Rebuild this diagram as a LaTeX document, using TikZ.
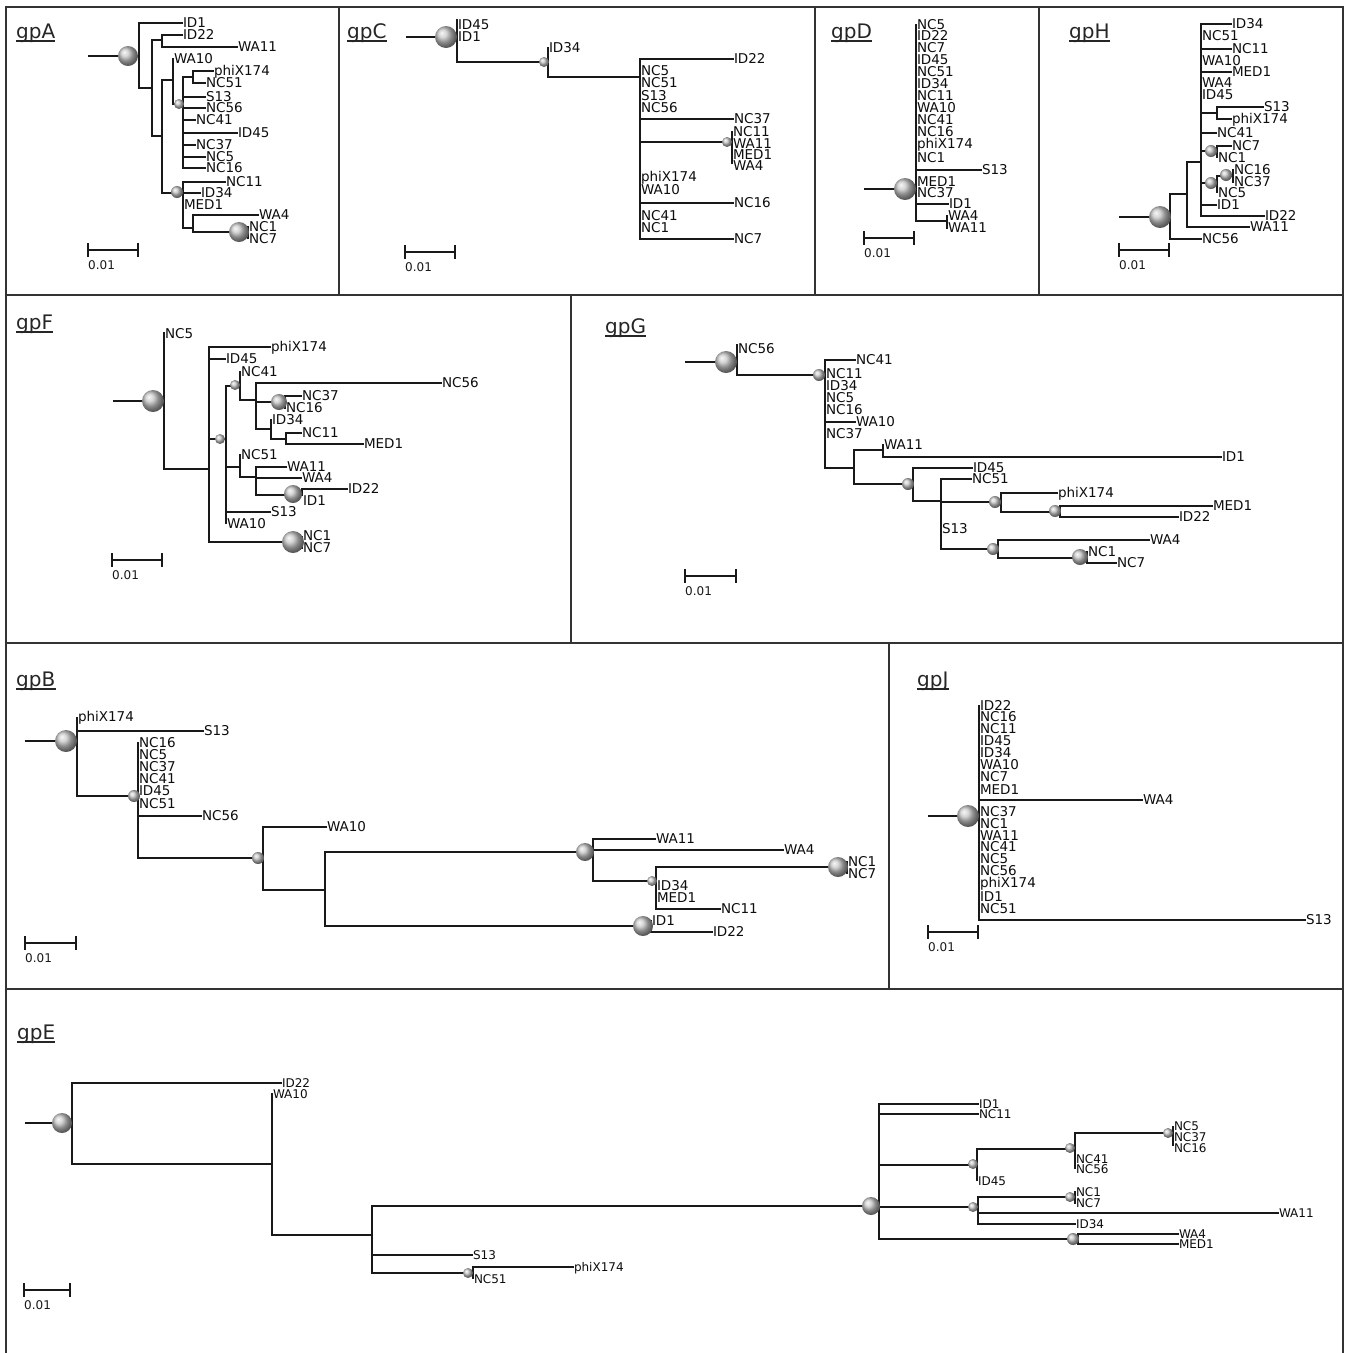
\documentclass[tikz,border=0pt]{standalone}
\usepackage{fontspec}
\setmainfont{DejaVu Sans}
\newcounter{lbl}
\def\lo{4.9}
\newcommand\hln[3]{\draw[br] (#1,#3) -- (#2,#3);}
\newcommand\vln[3]{\draw[br] (#1,#2) -- (#1,#3);}
\newcommand\zlab[3]{\stepcounter{lbl}\node[lab] (lab\arabic{lbl}) at (#1,#2+\lo) {#3};}
\newcommand\lfb[4]{\draw[br] (#1,#3) -- (#2,#3); \zlab{#2}{#3}{#4}}
\newcommand\bub[3]{\shade[ball color=gray!45] (#1,#2) circle (#3);}
\newcommand\sclbar[3]{\draw[br] (#1,#3) -- (#2,#3); \draw[br] (#1,#3-6) -- (#1,#3+6); \draw[br] (#2,#3-6) -- (#2,#3+6);
  \stepcounter{lbl}\node[scl] (lab\arabic{lbl}) at (#1,#3+19) {0.01};}
\newcommand\ttl[3]{\node[ttlst] (#1) at (#2) {#3}; \draw[line width=1.3pt,black!85] ([yshift=-3pt]#1.base west) -- ([yshift=-3pt]#1.base east);}
\begin{document}
\begin{tikzpicture}[x=1pt,y=-1pt,
  br/.style={line width=2.1pt, draw=black!90, line cap=rect},
  lab/.style={anchor=base west, inner sep=0pt, xshift=0.8pt, text=black!95, font=\fontsize{13.5}{13.5}\selectfont},
  scl/.style={anchor=base west, inner sep=0pt, text=black!90, font=\fontsize{12}{12}\selectfont},
  ttlst/.style={anchor=base west, inner sep=0pt, text=black!85, font=\fontsize{20}{20}\selectfont},
  frame/.style={line width=2pt, draw=black!80}]
\useasboundingbox (0,0) rectangle (1348,1353);
\fill[white] (0,0) rectangle (1348,1353);
% frame
\draw[frame] (6,1353) -- (6,7) -- (1343,7) -- (1343,1353);
\draw[frame] (6,295) -- (1343,295);
\draw[frame] (6,643) -- (1343,643);
\draw[frame] (6,989) -- (1343,989);
\draw[frame] (339,7) -- (339,295);
\draw[frame] (815,7) -- (815,295);
\draw[frame] (1039,7) -- (1039,295);
\draw[frame] (571,295) -- (571,643);
\draw[frame] (889,643) -- (889,989);

% ===== gpA =====
\ttl{tA}{16,38}{gpA}
\hln{89}{139}{56}
\vln{139}{23}{88}
\lfb{139}{182}{23}{ID1}
\hln{139}{152}{88}
\vln{152}{40}{136}
\hln{152}{162}{40}
\vln{162}{35}{47}
\lfb{162}{182}{35}{ID22}
\lfb{162}{237}{47}{WA11}
\hln{152}{162}{136}
\vln{162}{80}{193}
\hln{162}{173}{80}
\vln{173}{59}{104}
\zlab{173}{59}{WA10}
\hln{173}{183}{104}
\vln{183}{77}{168}
\hln{183}{193}{77}
\vln{193}{71}{83}
\lfb{193}{213}{71}{phiX174}
\lfb{193}{205}{83}{NC51}
\lfb{183}{205}{97}{S13}
\lfb{183}{205}{108}{NC56}
\lfb{183}{195}{120}{NC41}
\lfb{183}{237}{133}{ID45}
\lfb{183}{195}{145}{NC37}
\lfb{183}{205}{157}{NC5}
\lfb{183}{205}{168}{NC16}
\hln{162}{183}{193}
\vln{183}{182}{228}
\lfb{183}{225}{182}{NC11}
\lfb{183}{200}{193}{ID34}
\zlab{183}{205}{MED1}
\hln{183}{193}{228}
\vln{193}{215}{232}
\lfb{193}{258}{215}{WA4}
\hln{193}{248}{232}
\vln{248}{227}{238}
\zlab{248}{227}{NC1}
\zlab{248}{239}{NC7}
\bub{128}{56}{10}\bub{179}{104}{5}\bub{177}{192}{6}\bub{239}{232}{10}
\sclbar{88}{138}{250}

% ===== gpC =====
\ttl{tC}{347,38}{gpC}
\hln{407}{457}{37}
\vln{457}{20}{62}
\zlab{457}{25}{ID45}
\zlab{457}{37}{ID1}
\hln{457}{548}{62}
\vln{548}{48}{77}
\zlab{548}{48}{ID34}
\hln{548}{640}{77}
\vln{640}{59}{239}
\lfb{640}{733}{59}{ID22}
\zlab{640}{71}{NC5}\zlab{640}{83}{NC51}\zlab{640}{96}{S13}\zlab{640}{108}{NC56}
\lfb{640}{733}{119}{NC37}
\hln{640}{732}{142}
\vln{732}{132}{163}
\zlab{732}{132}{NC11}\zlab{732}{144}{WA11}\zlab{732}{155}{MED1}\zlab{732}{166}{WA4}
\zlab{640}{177}{phiX174}\zlab{640}{190}{WA10}
\lfb{640}{733}{203}{NC16}
\zlab{640}{216}{NC41}\zlab{640}{228}{NC1}
\lfb{640}{733}{239}{NC7}
\bub{446}{37}{11}\bub{544}{62}{5}\bub{727}{142}{5}
\sclbar{405}{455}{252}

% ===== gpD =====
\ttl{tD}{831,38}{gpD}
\hln{865}{916}{189}
\vln{916}{25}{221}
\zlab{916}{25}{NC5}\zlab{916}{36}{ID22}\zlab{916}{48}{NC7}\zlab{916}{60}{ID45}
\zlab{916}{72}{NC51}\zlab{916}{84}{ID34}\zlab{916}{96}{NC11}\zlab{916}{108}{WA10}
\zlab{916}{120}{NC41}\zlab{916}{132}{NC16}\zlab{916}{144}{phiX174}\zlab{916}{158}{NC1}
\lfb{916}{981}{170}{S13}
\zlab{916}{182}{MED1}\zlab{916}{193}{NC37}
\lfb{916}{948}{204}{ID1}
\hln{916}{947}{221}
\vln{947}{216}{228}
\zlab{947}{216}{WA4}\zlab{947}{228}{WA11}
\bub{905}{189}{11}
\sclbar{864}{914}{238}

% ===== gpH =====
\ttl{tH}{1069,38}{gpH}
\hln{1120}{1170}{217}
\vln{1170}{194}{239}
\lfb{1170}{1201}{239}{NC56}
\hln{1170}{1187}{194}
\vln{1187}{162}{227}
\lfb{1187}{1249}{227}{WA11}
\hln{1187}{1201}{162}
\vln{1201}{24}{216}
\lfb{1201}{1231}{24}{ID34}
\zlab{1201}{36}{NC51}
\lfb{1201}{1231}{49}{NC11}
\zlab{1201}{61}{WA10}
\lfb{1201}{1231}{72}{MED1}
\zlab{1201}{83}{WA4}
\zlab{1201}{95}{ID45}
\hln{1201}{1217}{113}
\vln{1217}{107}{119}
\lfb{1217}{1263}{107}{S13}
\lfb{1217}{1231}{119}{phiX174}
\lfb{1201}{1216}{133}{NC41}
\hln{1201}{1217}{151}
\vln{1217}{146}{157}
\lfb{1217}{1231}{146}{NC7}
\zlab{1217}{158}{NC1}
\hln{1201}{1217}{183}
\vln{1217}{176}{192}
\hln{1217}{1233}{176}
\vln{1233}{170}{182}
\zlab{1233}{170}{NC16}\zlab{1233}{182}{NC37}
\zlab{1217}{193}{NC5}
\lfb{1201}{1216}{205}{ID1}
\lfb{1201}{1264}{216}{ID22}
\bub{1160}{217}{11}\bub{1211}{151}{6}\bub{1211}{183}{6}\bub{1226}{175}{6}
\sclbar{1119}{1169}{250}

% ===== gpF =====
\ttl{tF}{16,329}{gpF}
\hln{114}{164}{401}
\vln{164}{333}{469}
\zlab{164}{334}{NC5}
\hln{164}{209}{469}
\vln{209}{347}{542}
\lfb{209}{270}{347}{phiX174}
\lfb{209}{225}{359}{ID45}
\hln{209}{226}{439}
\vln{226}{386}{523}
\hln{226}{240}{386}
\vln{240}{372}{400}
\zlab{240}{372}{NC41}
\hln{240}{256}{400}
\vln{256}{383}{429}
\lfb{256}{441}{383}{NC56}
\hln{256}{285}{402}
\vln{285}{396}{408}
\lfb{285}{301}{396}{NC37}
\zlab{285}{408}{NC16}
\hln{256}{271}{429}
\vln{271}{420}{439}
\zlab{271}{420}{ID34}
\hln{271}{286}{439}
\vln{286}{433}{444}
\lfb{286}{301}{433}{NC11}
\lfb{286}{363}{444}{MED1}
\hln{226}{240}{467}
\vln{240}{455}{477}
\zlab{240}{455}{NC51}
\hln{240}{256}{477}
\vln{256}{467}{495}
\lfb{256}{286}{467}{WA11}
\lfb{256}{301}{478}{WA4}
\hln{256}{302}{495}
\vln{302}{489}{495}
\lfb{302}{347}{489}{ID22}
\zlab{302}{501}{ID1}
\lfb{226}{270}{512}{S13}
\zlab{226}{524}{WA10}
\hln{209}{302}{542}
\vln{302}{537}{548}
\zlab{302}{536}{NC1}\zlab{302}{548}{NC7}
\bub{153}{401}{11}\bub{220}{439}{5}\bub{235}{385}{5}\bub{279}{402}{8}\bub{293}{494}{9}\bub{293}{542}{11}
\sclbar{112}{162}{560}

% ===== gpG =====
\ttl{tG}{605,333}{gpG}
\hln{686}{737}{362}
\vln{737}{345}{375}
\zlab{737}{349}{NC56}
\hln{737}{825}{375}
\vln{825}{360}{468}
\lfb{825}{855}{360}{NC41}
\zlab{825}{374}{NC11}\zlab{825}{386}{ID34}\zlab{825}{398}{NC5}\zlab{825}{410}{NC16}
\lfb{825}{855}{422}{WA10}
\zlab{825}{434}{NC37}
\hln{825}{854}{468}
\vln{854}{450}{484}
\hln{854}{883}{450}
\vln{883}{445}{457}
\zlab{883}{445}{WA11}
\lfb{883}{1221}{457}{ID1}
\hln{854}{913}{484}
\vln{913}{468}{501}
\lfb{913}{972}{468}{ID45}
\hln{913}{941}{501}
\vln{941}{479}{549}
\lfb{941}{971}{479}{NC51}
\hln{941}{1001}{502}
\vln{1001}{493}{512}
\lfb{1001}{1057}{493}{phiX174}
\hln{1001}{1060}{512}
\vln{1060}{506}{517}
\lfb{1060}{1212}{506}{MED1}
\lfb{1060}{1178}{517}{ID22}
\zlab{941}{529}{S13}
\hln{941}{998}{549}
\vln{998}{540}{558}
\lfb{998}{1149}{540}{WA4}
\hln{998}{1087}{558}
\vln{1087}{552}{563}
\zlab{1087}{552}{NC1}
\lfb{1087}{1116}{563}{NC7}
\bub{726}{362}{11}\bub{819}{375}{6}\bub{908}{484}{6}\bub{995}{502}{6}\bub{1055}{511}{6}\bub{993}{549}{6}\bub{1080}{557}{8}
\sclbar{685}{736}{576}

% ===== gpB =====
\ttl{tB}{16,686}{gpB}
\hln{26}{77}{741}
\vln{77}{718}{796}
\zlab{77}{717}{phiX174}
\lfb{77}{203}{731}{S13}
\hln{77}{138}{796}
\vln{138}{743}{858}
\zlab{138}{743}{NC16}\zlab{138}{755}{NC5}\zlab{138}{767}{NC37}\zlab{138}{779}{NC41}\zlab{138}{791}{ID45}\zlab{138}{804}{NC51}
\lfb{138}{201}{816}{NC56}
\hln{138}{263}{858}
\vln{263}{827}{890}
\lfb{263}{326}{827}{WA10}
\hln{263}{325}{890}
\vln{325}{852}{926}
\hln{325}{593}{852}
\vln{593}{839}{881}
\lfb{593}{655}{839}{WA11}
\lfb{593}{783}{850}{WA4}
\hln{593}{656}{881}
\vln{656}{867}{909}
\hln{656}{847}{867}
\vln{847}{862}{873}
\zlab{847}{862}{NC1}\zlab{847}{874}{NC7}
\zlab{656}{886}{ID34}\zlab{656}{898}{MED1}
\lfb{656}{720}{909}{NC11}
\hln{325}{651}{926}
\vln{651}{921}{932}
\zlab{651}{921}{ID1}
\lfb{651}{712}{932}{ID22}
\bub{66}{741}{11}\bub{134}{796}{6}\bub{258}{858}{6}\bub{585}{852}{9}\bub{652}{881}{5}\bub{838}{867}{10}\bub{643}{926}{10}
\sclbar{25}{76}{943}

% ===== gpJ =====
\ttl{tJ}{917,686}{gpJ}
\hln{929}{979}{816}
\vln{979}{706}{920}
\zlab{979}{706}{ID22}\zlab{979}{717}{NC16}\zlab{979}{729}{NC11}\zlab{979}{741}{ID45}
\zlab{979}{753}{ID34}\zlab{979}{765}{WA10}\zlab{979}{777}{NC7}\zlab{979}{790}{MED1}
\lfb{979}{1142}{800}{WA4}
\zlab{979}{812}{NC37}\zlab{979}{824}{NC1}\zlab{979}{836}{WA11}\zlab{979}{847}{NC41}
\zlab{979}{859}{NC5}\zlab{979}{871}{NC56}\zlab{979}{883}{phiX174}\zlab{979}{897}{ID1}\zlab{979}{909}{NC51}
\lfb{979}{1305}{920}{S13}
\bub{968}{816}{11}
\sclbar{928}{978}{932}

% ===== gpE =====
\ttl{tE}{17,1039}{gpE}
\begin{scope}[lab/.style={anchor=base west, inner sep=0pt, xshift=0.8pt, text=black!95, font=\fontsize{12}{12}\selectfont}]
\def\lo{4.4}
\hln{26}{72}{1123}
\vln{72}{1083}{1164}
\lfb{72}{281}{1083}{ID22}
\hln{72}{272}{1164}
\vln{272}{1094}{1235}
\zlab{272}{1094}{WA10}
\hln{272}{372}{1235}
\vln{372}{1206}{1273}
\lfb{372}{472}{1255}{S13}
\hln{372}{473}{1273}
\vln{473}{1267}{1278}
\lfb{473}{573}{1267}{phiX174}
\zlab{473}{1279}{NC51}
\hln{372}{879}{1206}
\vln{879}{1104}{1239}
\lfb{879}{978}{1104}{ID1}
\lfb{879}{978}{1114}{NC11}
\hln{879}{977}{1165}
\vln{977}{1149}{1180}
\zlab{977}{1181}{ID45}
\hln{977}{1075}{1149}
\vln{1075}{1133}{1168}
\hln{1075}{1173}{1133}
\vln{1173}{1127}{1145}
\zlab{1173}{1126}{NC5}\zlab{1173}{1137}{NC37}\zlab{1173}{1148}{NC16}
\zlab{1075}{1159}{NC41}\zlab{1075}{1169}{NC56}
\hln{879}{978}{1207}
\vln{978}{1197}{1224}
\hln{978}{1075}{1197}
\vln{1075}{1192}{1203}
\zlab{1075}{1192}{NC1}\zlab{1075}{1203}{NC7}
\lfb{978}{1278}{1213}{WA11}
\lfb{978}{1075}{1224}{ID34}
\hln{879}{1078}{1239}
\vln{1078}{1234}{1244}
\lfb{1078}{1178}{1234}{WA4}
\lfb{1078}{1178}{1244}{MED1}
\bub{62}{1123}{10}\bub{468}{1273}{5}\bub{871}{1206}{9}\bub{973}{1164}{5}\bub{1070}{1148}{5}\bub{1168}{1133}{5}\bub{973}{1207}{5}\bub{1070}{1197}{5}\bub{1073}{1239}{6}
\end{scope}
\sclbar{24}{70}{1290}
\end{tikzpicture}
\end{document}
